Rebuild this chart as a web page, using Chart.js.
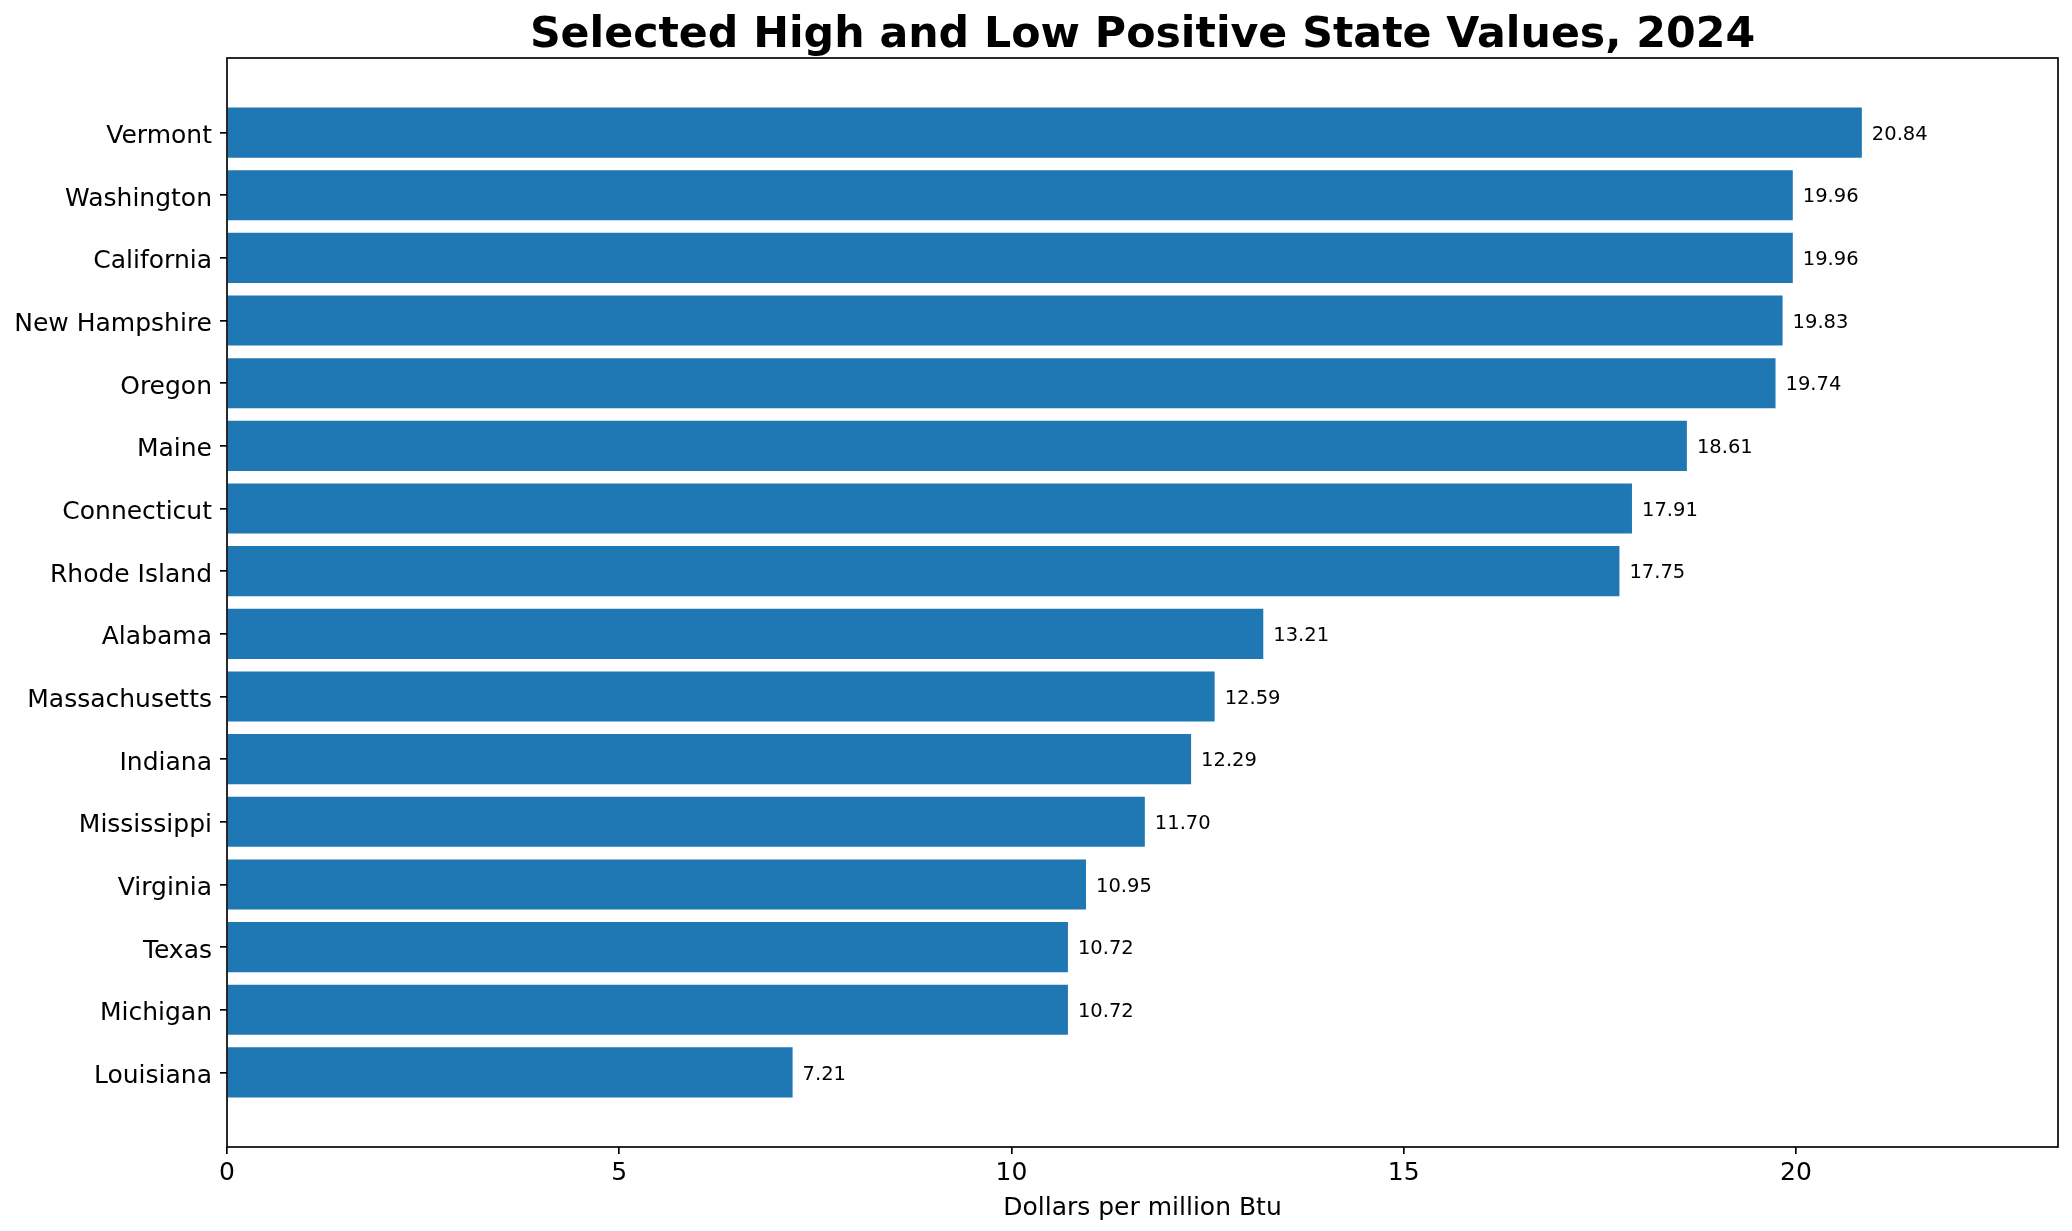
<!DOCTYPE html>
<html>
<head>
<meta charset="utf-8">
<script src="https://cdn.jsdelivr.net/npm/chart.js@4/dist/chart.umd.min.js"></script>
<style>
  html, body { margin: 0; padding: 0; background: #fff; }
  #chart { display: block; }
</style>
</head>
<body>
<canvas id="chart" width="2072" height="1231" style="width:2072px;height:1231px"></canvas>
<script>
// Data
const states = ['Vermont', 'Washington', 'California', 'New Hampshire', 'Oregon', 'Maine',
    'Connecticut', 'Rhode Island', 'Alabama', 'Massachusetts', 'Indiana', 'Mississippi',
    'Virginia', 'Texas', 'Michigan', 'Louisiana'];
const prices = [20.84, 19.96, 19.96, 19.83, 19.74, 18.61, 17.91, 17.75, 13.21, 12.59,
    12.29, 11.70, 10.95, 10.72, 10.72, 7.21];
const xTicks = [0, 5, 10, 15, 20];

const chartTitle = 'Selected High and Low Positive State Values, 2024';
const xTitle = 'Dollars per million Btu';
const font = 'DejaVu Sans';

// matplotlib style limits: 5% margin around the bars, 12% headroom on x
const xMax = Math.max(...prices) * 1.12;
const yPad = 0.05 * (states.length - 1 + 0.8);
const yMin = -0.4 - yPad;
const yMax = states.length - 1 + 0.4 + yPad;

// Frame, title and value labels, drawn like matplotlib does them
const extras = {
    id: 'extras',
    afterDatasetsDraw(chart) {
        const ctx = chart.ctx;
        const area = chart.chartArea;
        const xs = chart.scales.x;
        const ys = chart.scales.y;

        ctx.save();
        ctx.fillStyle = '#000';
        ctx.font = '19.5px "' + font + '"';
        ctx.textAlign = 'left';
        ctx.textBaseline = 'alphabetic';
        prices.forEach((v, i) => {
            const px = xs.getPixelForValue(v) + 10;
            const py = ys.getPixelForValue(i) + 19.5 * 0.365;
            ctx.fillText(v.toFixed(2), px, py);
        });

        ctx.strokeStyle = '#000';
        ctx.lineWidth = 1.67;
        ctx.strokeRect(area.left, area.top, area.right - area.left, area.bottom - area.top);

        ctx.font = 'bold 42.7px "' + font + '"';
        ctx.textAlign = 'center';
        ctx.fillText(chartTitle, (area.left + area.right) / 2, 47);
        ctx.restore();
    }
};

new Chart(document.getElementById('chart'), {
    type: 'bar',
    data: {
        datasets: [{
            data: prices.map((v, i) => ({ x: v, y: i })),
            backgroundColor: '#1f77b4',
            borderWidth: 0,
            barPercentage: 0.8,
            categoryPercentage: 1.0
        }]
    },
    options: {
        indexAxis: 'y',
        responsive: false,
        devicePixelRatio: 1,
        animation: false,
        layout: {
            padding: { top: 58, right: 14, left: 0, bottom: 0 }
        },
        plugins: {
            legend: { display: false },
            tooltip: { enabled: false }
        },
        scales: {
            x: {
                type: 'linear',
                min: 0,
                max: xMax,
                afterBuildTicks: function(scale) {
                    scale.ticks = xTicks.map(v => ({ value: v }));
                },
                afterFit: function(scale) {
                    scale.height = 84;
                },
                border: { display: false },
                grid: {
                    display: true,
                    drawOnChartArea: false,
                    drawTicks: true,
                    tickLength: 7,
                    lineWidth: 1.67,
                    color: '#000'
                },
                ticks: {
                    color: '#000',
                    padding: 4,
                    font: { family: font, size: 25 }
                },
                title: {
                    display: true,
                    text: xTitle,
                    color: '#000',
                    font: { family: font, size: 25 },
                    padding: { top: 0, bottom: 8 }
                }
            },
            y: {
                type: 'linear',
                reverse: true,
                offset: false,
                min: yMin,
                max: yMax,
                afterBuildTicks: function(scale) {
                    scale.ticks = states.map((s, i) => ({ value: i }));
                },
                afterFit: function(scale) {
                    scale.width = 227;
                },
                border: { display: false },
                grid: {
                    display: true,
                    offset: false,
                    drawOnChartArea: false,
                    drawTicks: true,
                    tickLength: 7,
                    lineWidth: 1.67,
                    color: '#000'
                },
                ticks: {
                    color: '#000',
                    padding: 8,
                    labelOffset: 4,
                    autoSkip: false,
                    font: { family: font, size: 25 },
                    callback: function(value) {
                        return states[value];
                    }
                }
            }
        }
    },
    plugins: [extras]
});
</script>
</body>
</html>
